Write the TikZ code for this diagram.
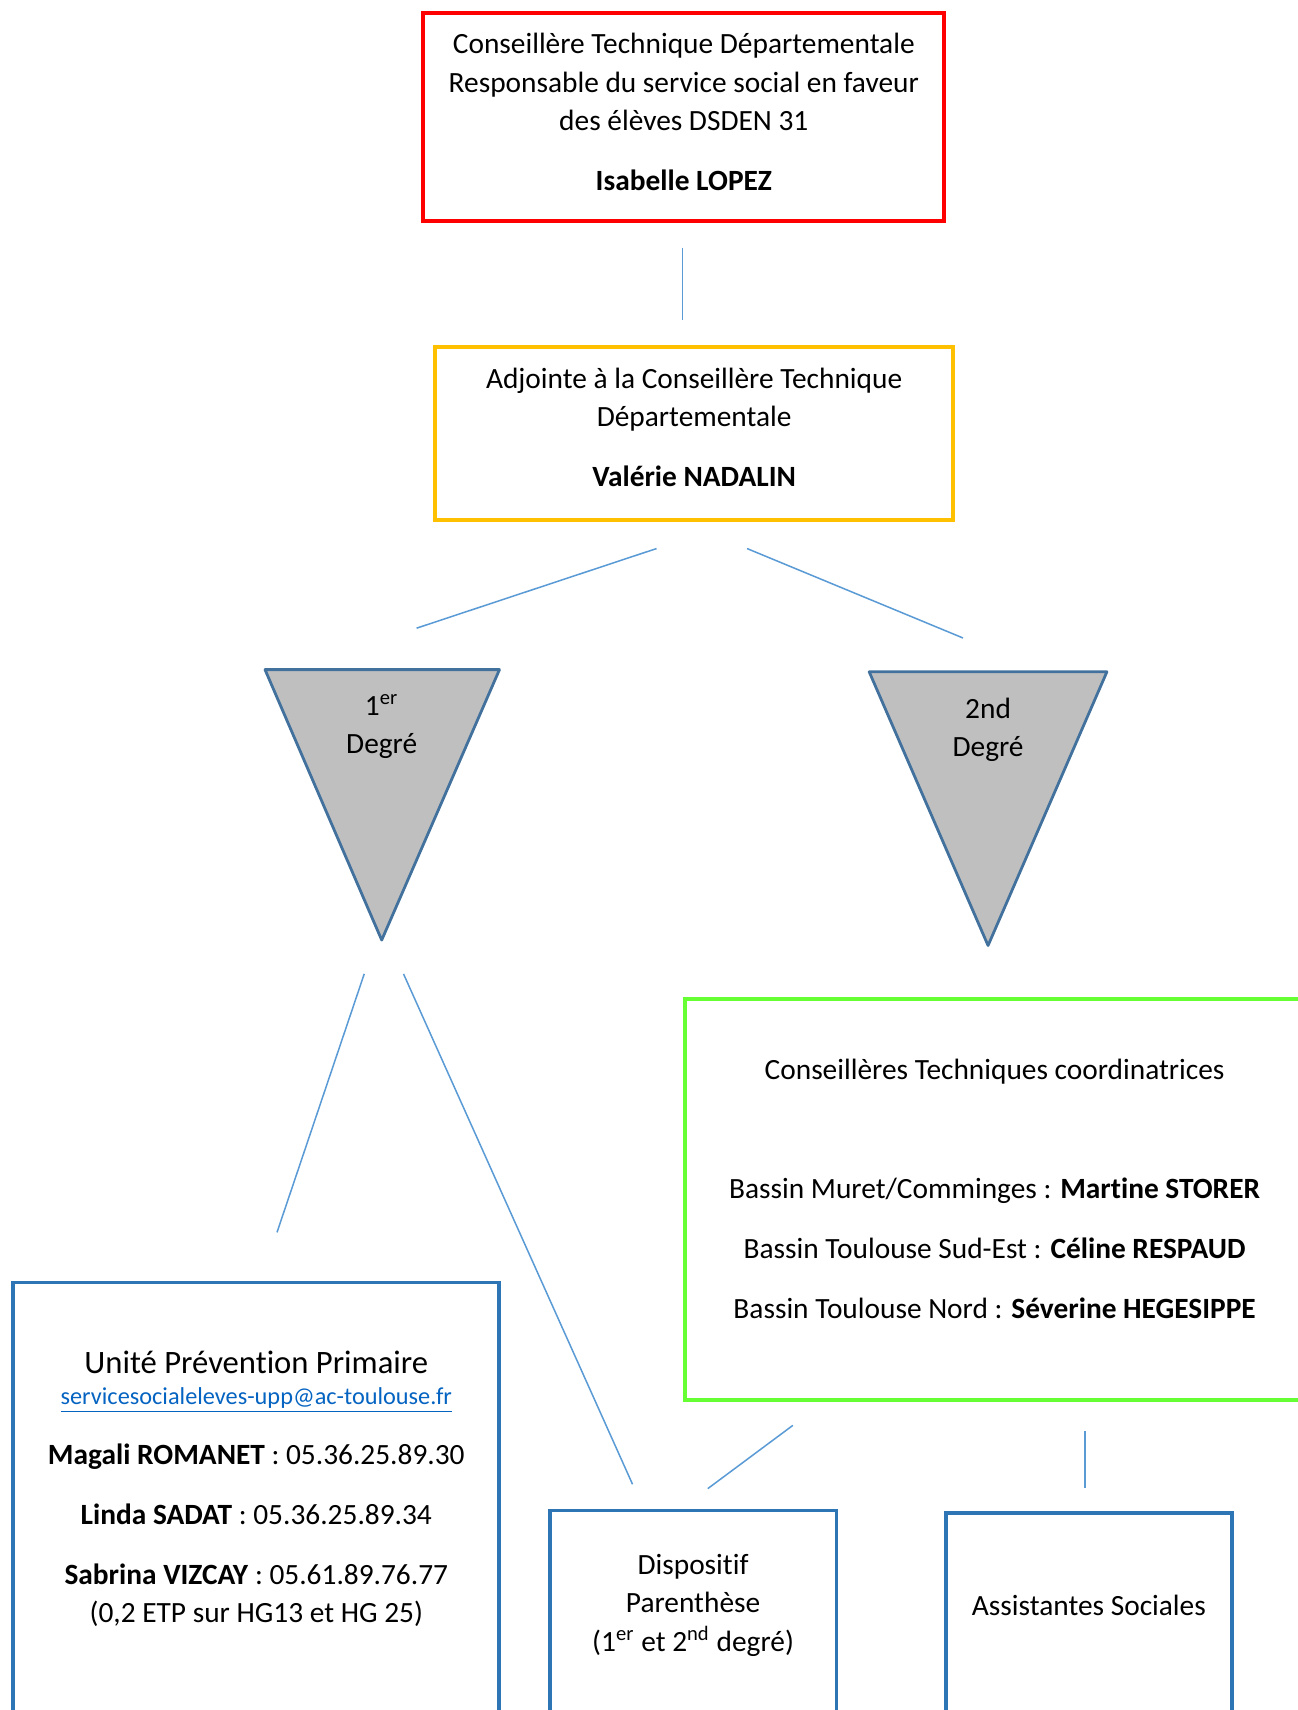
\documentclass[tikz,border=0pt]{standalone}
\usepackage{fontspec}
\setmainfont{Carlito}[Ligatures=NoCommon]
\usetikzlibrary{positioning}
\definecolor{linkblue}{HTML}{5B9BD5}
\definecolor{boxblue}{HTML}{2E75B6}
\definecolor{trianglegray}{HTML}{BFBFBF}
\definecolor{triangleblue}{HTML}{41719C}
\definecolor{boxgreen}{HTML}{66FF33}
\definecolor{boxyellow}{HTML}{FFC000}
\definecolor{mailblue}{HTML}{0563C1}

\begin{document}
\begin{tikzpicture}[x=0.01513cm, y=-0.01513cm,
    box/.style={rectangle, draw, line width=1.6pt, align=center, font=\fontsize{11.6}{15.06}\selectfont},
    txt/.style={align=center, inner sep=0pt, font=\fontsize{11.6}{15.06}\selectfont},
    link/.style={draw=linkblue, line width=0.6pt},
    degree/.style={draw=triangleblue, fill=trianglegray, line width=1.1pt, line join=round}]
    \useasboundingbox (0,0) rectangle (1190,1568);
    \clip (0,0) rectangle (1190,1568);

    \node(cte) [box, draw=red, minimum width=7.232cm, minimum height=2.890cm, text depth=4.3pt] at (627,107.5) {Conseillère Technique Départementale\\Responsable du service social en faveur\\des élèves DSDEN 31\\[8.6pt]\textbf{Isabelle LOPEZ}};
    \node(adjointe) [box, draw=boxyellow, minimum width=7.187cm, minimum height=2.406cm, text depth=5.2pt] at (636.5,397.5) {Adjointe à la Conseillère Technique\\Départementale\\[8.6pt]\textbf{Valérie NADALIN}};

    \draw[degree] (243,614) coordinate(p1) -- (458,614) coordinate(p2) -- (350,862) coordinate(p3) -- cycle;
    \node(premier) [txt] at (350,666) {1\textsuperscript{er}\\Degré};
    \draw[degree] (797,616) coordinate(s1) -- (1015,616) coordinate(s2) -- (906,867) coordinate(s3) -- cycle;
    \node(second) [txt] at (906,669) {2nd\\Degré};

    \node(coord) [box, draw=boxgreen, minimum width=8.594cm, minimum height=5.568cm, text depth=8.6pt] at (912,1100) {Conseillères Techniques coordinatrices\\[32pt]Bassin Muret/Comminges : \textbf{Martine STORER}\\[8.6pt]Bassin Toulouse Sud-Est : \textbf{Céline RESPAUD}\\[8.6pt]Bassin Toulouse Nord : \textbf{Séverine HEGESIPPE}};

    \node(upp) [box, draw=boxblue, line width=1.5pt, minimum width=6.748cm, minimum height=6.720cm] at (235,1398) {};
    \node(upptitle) [txt, font=\fontsize{12.9}{16}\selectfont] at (235,1249) {Unité Prévention Primaire};
    \node(uppmail) [txt, font=\fontsize{9.6}{12}\selectfont, text=mailblue] at (235,1284) {\underline{servicesocialeleves-upp@ac-toulouse.fr}};
    \node(uppstaff) [txt] at (235,1408) {\textbf{Magali ROMANET} : 05.36.25.89.30\\[8.6pt]\textbf{Linda SADAT} : 05.36.25.89.34\\[8.6pt]\textbf{Sabrina VIZCAY} : 05.61.89.76.77\\(0,2 ETP sur HG13 et HG 25)};

    \node(parenthese) [box, draw=boxblue, line width=1.5pt, minimum width=3.979cm, minimum height=3.556cm] at (635.5,1502.5) {};
    \node(parenthesetxt) [txt] at (635.5,1472) {Dispositif\\Parenthèse\\(1\textsuperscript{er} et 2\textsuperscript{nd} degré)};
    \node(assistantes) [box, draw=boxblue, line width=1.5pt, minimum width=3.979cm, minimum height=3.525cm] at (998.5,1503.5) {};
    \node(assistantestxt) [txt] at (998.5,1472) {Assistantes Sociales};

    \coordinate(a1) at (626,227);
    \coordinate(b1) at (626,293);
    \coordinate(a2) at (602,503);
    \coordinate(b2) at (382,576);
    \coordinate(a3) at (685,503);
    \coordinate(b3) at (883,585);
    \coordinate(a4) at (334,893);
    \coordinate(b4) at (254,1130);
    \coordinate(a5) at (370,893);
    \coordinate(b5) at (580,1361);
    \coordinate(a6) at (727,1307);
    \coordinate(b6) at (649,1365);
    \coordinate(a7) at (995,1312);
    \coordinate(b7) at (995,1364);
    \foreach \i in {1,...,7}
        \draw[link] (a\i) -- (b\i);
  \end{tikzpicture}
\end{document}
